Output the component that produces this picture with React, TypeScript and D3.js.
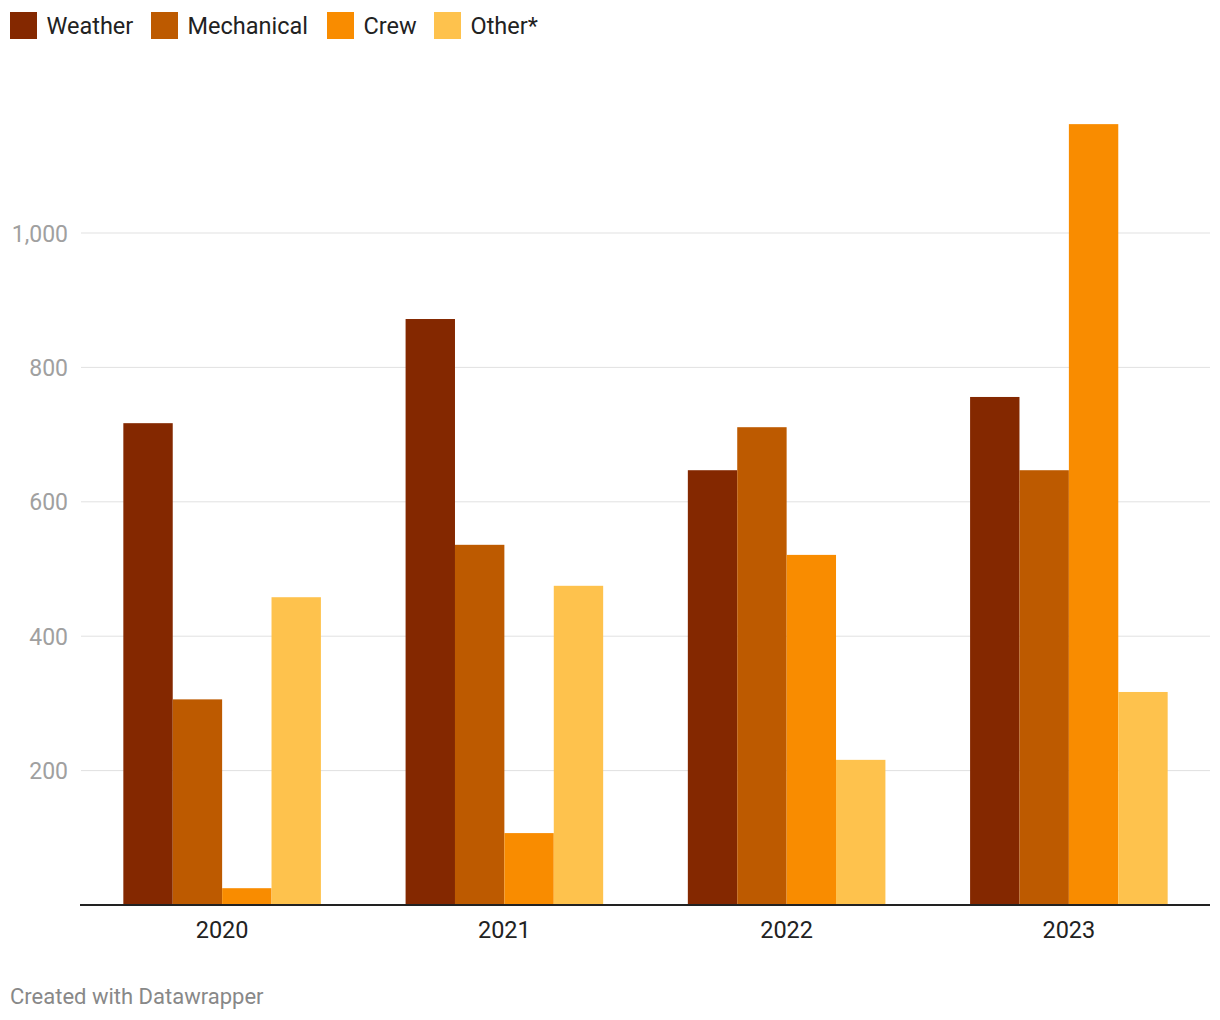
import React from "react";
import * as d3 from "d3";

const years = ["2020", "2021", "2022", "2023"];
const seriesNames = ["Weather", "Mechanical", "Crew", "Other*"];
const weather = [717, 872, 647, 756];
const mechanical = [306, 536, 711, 647];
const crew = [25, 107, 521, 1162];
const other = [458, 475, 216, 317];
const colors = ["#842800", "#bd5a00", "#f98c00", "#fec24d"];
const yTicks = [200, 400, 600, 800, 1000];

const W = 1220;
const H = 1020;
const margin = { left: 80, right: 10, top: 0, bottom: 0 };
const y0px = 905;

export default function App() {
  const values = [weather, mechanical, crew, other];
  const x = d3
    .scaleBand<string>()
    .domain(years)
    .range([margin.left + 1, W - margin.right])
    .paddingInner(0.3)
    .paddingOuter(0.15);
  const xInner = d3
    .scaleBand<string>()
    .domain(seriesNames)
    .range([0, x.bandwidth()]);
  const y = d3.scaleLinear().domain([0, 1000]).range([y0px, 233]);
  const fmt = d3.format(",");
  const legendX = [10, 151, 327, 434];

  return (
    <svg
      width={W}
      height={H}
      style={{ position: "absolute", left: 0, top: 0, fontFamily: "Roboto, sans-serif" }}
    >
      <rect width={W} height={H} fill="#fff" />
      {seriesNames.map((s, i) => (
        <g key={s} transform={`translate(${legendX[i]},12)`}>
          <rect width={27} height={27} fill={colors[i]} />
          <text x={36.5} y={22} fontSize={23.5} fill="#222">
            {s}
          </text>
        </g>
      ))}
      {yTicks.map((t) => (
        <g key={t}>
          <line x1={81} x2={W - margin.right} y1={y(t)} y2={y(t)} stroke="#e1e1e1" strokeWidth={1} />
          <text x={68} y={y(t) + 8.5} fontSize={23} fill="#a0a0a0" textAnchor="end">
            {fmt(t)}
          </text>
        </g>
      ))}
      {years.map((yr, gi) => (
        <g key={yr} transform={`translate(${x(yr)},0)`}>
          {seriesNames.map((s, si) => (
            <rect
              key={s}
              x={xInner(s)}
              y={y(values[si][gi])}
              width={xInner.bandwidth()}
              height={y0px - y(values[si][gi])}
              fill={colors[si]}
            />
          ))}
          <text
            x={x.bandwidth() / 2}
            y={938}
            fontSize={23.5}
            fill="#222"
            textAnchor="middle"
          >
            {yr}
          </text>
        </g>
      ))}
      <line x1={80} x2={W - margin.right} y1={y0px} y2={y0px} stroke="#222" strokeWidth={2} />
      <text x={10} y={1004} fontSize={22} fill="#888">
        Created with Datawrapper
      </text>
    </svg>
  );
}
